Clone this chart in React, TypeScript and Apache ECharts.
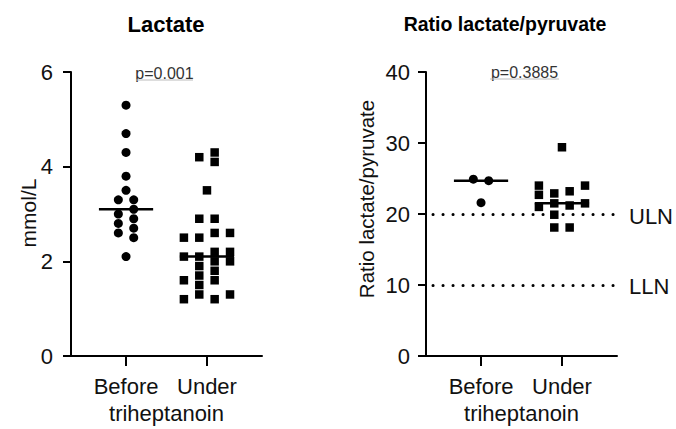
import React, { useEffect, useRef } from "react";
import * as echarts from "echarts";

// ---- data ----
const groups = ["Before", "Under"];
const panelTitles = ["Lactate", "Ratio lactate/pyruvate"];
const yNames = ["mmol/L", "Ratio lactate/pyruvate"];
const xName = "triheptanoin";
const pValues = ["p=0.001", "p=0.3885"];

const lactateTicks = { min: 0, max: 6, interval: 2 };
const ratioTicks = { min: 0, max: 40, interval: 10 };

const lactateBefore = [5.3, 4.7, 4.3, 3.8, 3.5, 3.3, 3.3, 3.1, 3.0, 2.9, 2.8, 2.7, 2.6, 2.5, 2.1];
const lactateBeforeCol = [0, 0, 0, 0, 0, -0.5, 0.5, 0.5, -0.5, 0.5, -0.5, 0.5, -0.5, 0.5, 0];

const lactateUnder = [
  2.5, 2.1, 1.6, 1.2,
  4.2, 2.9, 2.5, 2.1, 1.9, 1.7, 1.5, 1.3,
  3.5,
  4.3, 4.1, 2.9, 2.6, 2.2, 2.0, 1.8, 1.6, 1.2,
  2.6, 2.2, 2.0, 1.3,
];
const lactateUnderCol = [
  -1.5, -1.5, -1.5, -1.5,
  -0.5, -0.5, -0.5, -0.5, -0.5, -0.5, -0.5, -0.5,
  0,
  0.5, 0.5, 0.5, 0.5, 0.5, 0.5, 0.5, 0.5, 0.5,
  1.5, 1.5, 1.5, 1.5,
];

const ratioBefore = [24.9, 24.7, 21.6];
const ratioBeforeCol = [-0.5, 0.5, 0];

const ratioUnder = [29.4, 24.0, 22.7, 21.0, 22.9, 21.5, 19.9, 18.1, 23.2, 21.2, 18.1, 24.0, 21.5];
const ratioUnderCol = [0, -1.5, -1.5, -1.5, -0.5, -0.5, -0.5, -0.5, 0.5, 0.5, 0.5, 1.5, 1.5];

const refLines = [
  { name: "ULN", value: 20 },
  { name: "LLN", value: 10 },
];

// ---- helpers ----
const SLOT = 0.19;
const HALF = 0.335;
const FONT = "'Liberation Sans', Arial, Helvetica, sans-serif";

const median = (a: number[]) => {
  const s = [...a].sort((x, y) => x - y);
  const n = s.length;
  return n % 2 ? s[(n - 1) / 2] : (s[n / 2 - 1] + s[n / 2]) / 2;
};
const toPoints = (g: number, vals: number[], cols: number[]) =>
  vals.map((v, i) => [g + cols[i] * SLOT, v]);

export default function App() {
  const ref = useRef<HTMLDivElement>(null);

  useEffect(() => {
    if (!ref.current) return;
    const chart = echarts.init(ref.current, null, { renderer: "svg" });

    const xAxisBase = (gridIndex: number) => ({
      type: "value",
      gridIndex,
      min: 0.32,
      max: 2.68,
      splitLine: { show: false },
      axisLine: { show: true, onZero: false, lineStyle: { color: "#000", width: 2 } },
      axisTick: { show: true, customValues: [1, 2], length: 10, lineStyle: { color: "#000", width: 2 } },
      axisLabel: {
        customValues: [1, 2],
        formatter: (v: number) => groups[Math.round(v) - 1] ?? "",
        fontSize: 22,
        color: "#111",
        margin: 19,
        fontFamily: FONT,
      },
    });
    const yAxisBase = (gridIndex: number, t: { min: number; max: number; interval: number }, margin: number) => ({
      type: "value",
      gridIndex,
      min: t.min,
      max: t.max,
      interval: t.interval,
      splitLine: { show: false },
      axisLine: { show: true, onZero: false, lineStyle: { color: "#000", width: 2 } },
      axisTick: { show: true, length: 8, lineStyle: { color: "#000", width: 2 } },
      axisLabel: { fontSize: 22, color: "#111", margin, fontFamily: FONT },
    });

    const scatter = (axis: number, g: number, vals: number[], cols: number[], symbol: string, size: number) => ({
      type: "scatter",
      xAxisIndex: axis,
      yAxisIndex: axis,
      symbol,
      symbolSize: size,
      itemStyle: { color: "#000", opacity: 1 },
      data: toPoints(g, vals, cols),
      z: 2,
    });
    const medLine = (axis: number, g: number, vals: number[]) => {
      const m = median(vals);
      return {
        type: "line",
        xAxisIndex: axis,
        yAxisIndex: axis,
        symbol: "none",
        lineStyle: { color: "#000", width: 2.5 },
        data: [
          [g - HALF, m],
          [g + HALF, m],
        ],
        z: 3,
      };
    };

    const option = {
      animation: false,
      backgroundColor: "#fff",
      textStyle: { fontFamily: FONT },
      title: [
        {
          text: panelTitles[0],
          left: 166,
          top: 13,
          textAlign: "center",
          padding: 0,
          textStyle: { fontSize: 22, fontWeight: "bold", color: "#000", fontFamily: FONT },
        },
        {
          text: panelTitles[1],
          left: 505,
          top: 14,
          textAlign: "center",
          padding: 0,
          textStyle: { fontSize: 19.5, fontWeight: "bold", color: "#000", fontFamily: FONT },
        },
      ],
      grid: [
        { left: 71, top: 72, width: 191, height: 284 },
        { left: 426, top: 72, width: 191, height: 284 },
      ],
      xAxis: [xAxisBase(0), xAxisBase(1)],
      yAxis: [yAxisBase(0, lactateTicks, 18), yAxisBase(1, ratioTicks, 16)],
      series: [
        scatter(0, 1, lactateBefore, lactateBeforeCol, "circle", 9),
        scatter(0, 2, lactateUnder, lactateUnderCol, "rect", 8.5),
        medLine(0, 1, lactateBefore),
        medLine(0, 2, lactateUnder),
        scatter(1, 1, ratioBefore, ratioBeforeCol, "circle", 9),
        scatter(1, 2, ratioUnder, ratioUnderCol, "rect", 8.5),
        medLine(1, 1, ratioBefore),
        medLine(1, 2, ratioUnder),
        {
          type: "line",
          xAxisIndex: 1,
          yAxisIndex: 1,
          data: [],
          markLine: {
            silent: true,
            symbol: "none",
            label: { show: false },
            lineStyle: { color: "#000", width: 3, type: [0.1, 9.9], cap: "round", dashOffset: -7 },
            data: refLines.map((r) => ({ yAxis: r.value })),
          },
        },
      ],
      graphic: [
        {
          type: "text",
          x: 28,
          y: 213,
          rotation: Math.PI / 2,
          style: { text: yNames[0], fontSize: 21, fill: "#111", align: "center", verticalAlign: "middle", fontFamily: FONT },
        },
        {
          type: "text",
          x: 366,
          y: 199,
          rotation: Math.PI / 2,
          style: { text: yNames[1], fontSize: 20.5, fill: "#111", align: "center", verticalAlign: "middle", fontFamily: FONT },
        },
        {
          type: "text",
          x: 166.5,
          y: 413,
          style: { text: xName, fontSize: 22, fill: "#111", align: "center", verticalAlign: "middle", fontFamily: FONT },
        },
        {
          type: "text",
          x: 521.5,
          y: 413,
          style: { text: xName, fontSize: 22, fill: "#111", align: "center", verticalAlign: "middle", fontFamily: FONT },
        },
        {
          type: "text",
          x: 164.5,
          y: 73,
          style: { text: pValues[0], fontSize: 16, fill: "#333", align: "center", verticalAlign: "middle", fontFamily: FONT },
        },
        { type: "line", shape: { x1: 136, y1: 80, x2: 193, y2: 80 }, style: { stroke: "#bbb", lineWidth: 1 } },
        {
          type: "text",
          x: 524.5,
          y: 72,
          style: { text: pValues[1], fontSize: 16, fill: "#333", align: "center", verticalAlign: "middle", fontFamily: FONT },
        },
        { type: "line", shape: { x1: 490, y1: 79, x2: 559, y2: 79 }, style: { stroke: "#bbb", lineWidth: 1 } },
        {
          type: "text",
          x: 629,
          y: 216,
          style: { text: refLines[0].name, fontSize: 22, fill: "#111", align: "left", verticalAlign: "middle", fontFamily: FONT },
        },
        {
          type: "text",
          x: 629,
          y: 286,
          style: { text: refLines[1].name, fontSize: 22, fill: "#111", align: "left", verticalAlign: "middle", fontFamily: FONT },
        },
      ],
    };

    chart.setOption(option as any);
    return () => chart.dispose();
  }, []);

  return (
    <div
      ref={ref}
      style={{ position: "fixed", left: 0, top: 0, width: 676, height: 429, background: "#fff" }}
    />
  );
}
